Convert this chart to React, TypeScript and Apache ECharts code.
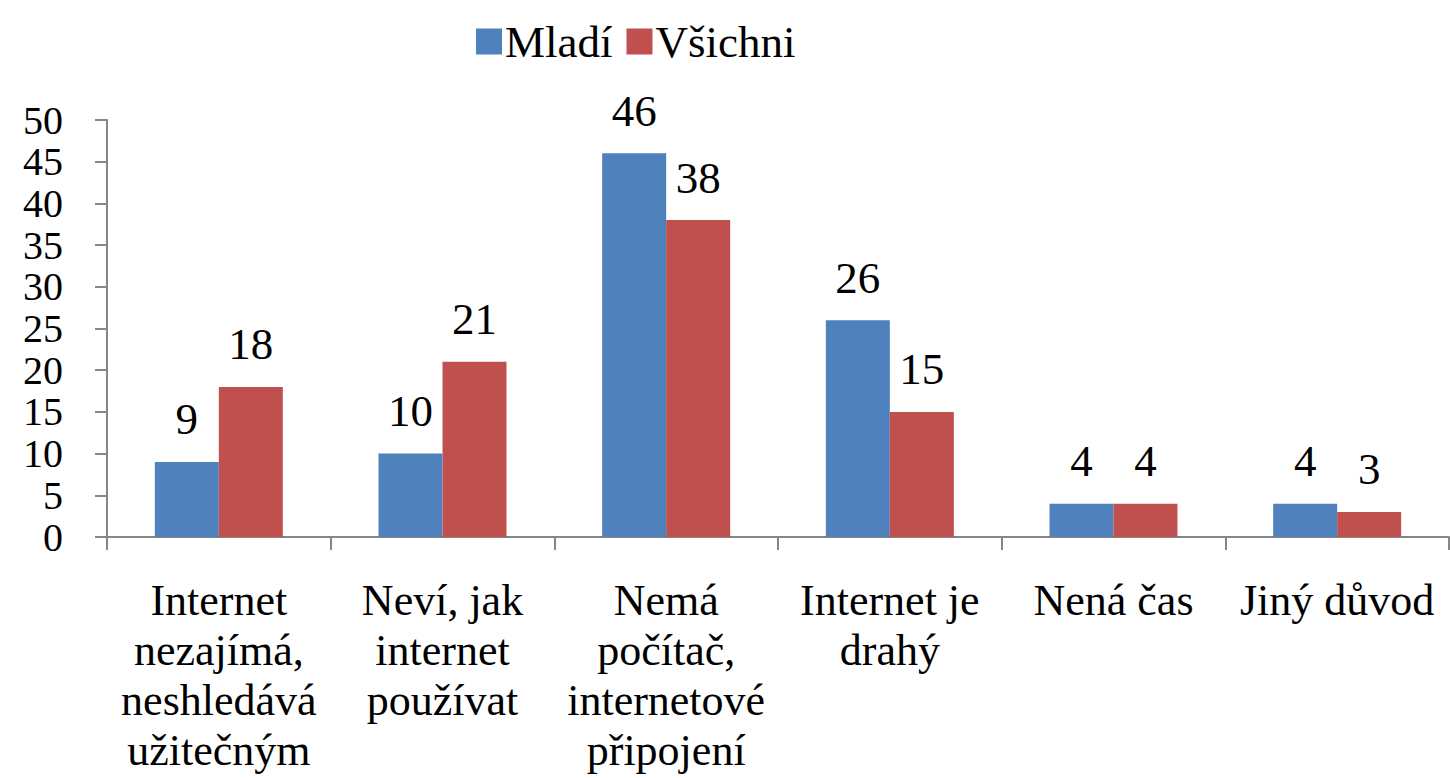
import React, { useEffect, useRef } from "react";
import * as echarts from "echarts";

const categories = [
  "Internet\nnezajímá,\nneshledává\nužitečným",
  "Neví, jak\ninternet\npoužívat",
  "Nemá\npočítač,\ninternetové\npřipojení",
  "Internet je\ndrahý",
  "Nená čas",
  "Jiný důvod",
];
const mladi = [9, 10, 46, 26, 4, 4];
const vsichni = [18, 21, 38, 15, 4, 3];
const seriesNames = ["Mladí", "Všichni"];

const FONT = "Liberation Serif, DejaVu Serif, serif";

export default function App() {
  const ref = useRef<HTMLDivElement>(null);
  useEffect(() => {
    if (!ref.current) return;
    const chart = echarts.init(ref.current, null, { renderer: "svg" });
    const labelStyle = {
      show: true,
      position: "top" as const,
      distance: 20,
      fontFamily: FONT,
      fontSize: 45,
      color: "#000",
    };
    chart.setOption({
      animation: false,
      backgroundColor: "#fff",
      textStyle: { fontFamily: FONT },
      legend: {
        left: 471,
        top: 14,
        itemWidth: 26,
        itemHeight: 26,
        itemGap: 14,
        icon: "rect",
        textStyle: { fontFamily: FONT, fontSize: 45, color: "#000", padding: [0, 0, 0, -2] },
        data: seriesNames,
      },
      grid: { left: 107, right: 1, top: 120, bottom: 241, outerBoundsMode: "none", containLabel: false },
      xAxis: {
        type: "category",
        data: categories,
        axisLine: { lineStyle: { color: "#868686", width: 2 } },
        axisTick: { show: true, length: 13, lineStyle: { color: "#868686", width: 2 } },
        axisLabel: {
          interval: 0,
          margin: 38,
          fontFamily: FONT,
          fontSize: 44,
          lineHeight: 50,
          color: "#000",
        },
      },
      yAxis: {
        type: "value",
        min: 0,
        max: 50,
        interval: 5,
        axisLine: { show: true, lineStyle: { color: "#868686", width: 2 } },
        axisTick: { show: true, length: 12, lineStyle: { color: "#868686", width: 2 } },
        splitLine: { show: false },
        axisLabel: {
          margin: 44,
          fontFamily: FONT,
          fontSize: 40,
          lineHeight: 36,
          showMinLabel: true,
          showMaxLabel: true,
          hideOverlap: false,
          color: "#000",
        },
      },
      series: [
        {
          name: seriesNames[0],
          type: "bar",
          data: mladi,
          barWidth: 64,
          barGap: "0%",
          itemStyle: { color: "#4F81BD" },
          label: labelStyle,
        },
        {
          name: seriesNames[1],
          type: "bar",
          data: vsichni,
          barWidth: 64,
          barGap: "0%",
          itemStyle: { color: "#C0504D" },
          label: labelStyle,
        },
      ],
    });
    return () => chart.dispose();
  }, []);
  return (
    <div
      ref={ref}
      style={{ position: "fixed", left: 0, top: 0, width: 1450, height: 778 }}
    />
  );
}
